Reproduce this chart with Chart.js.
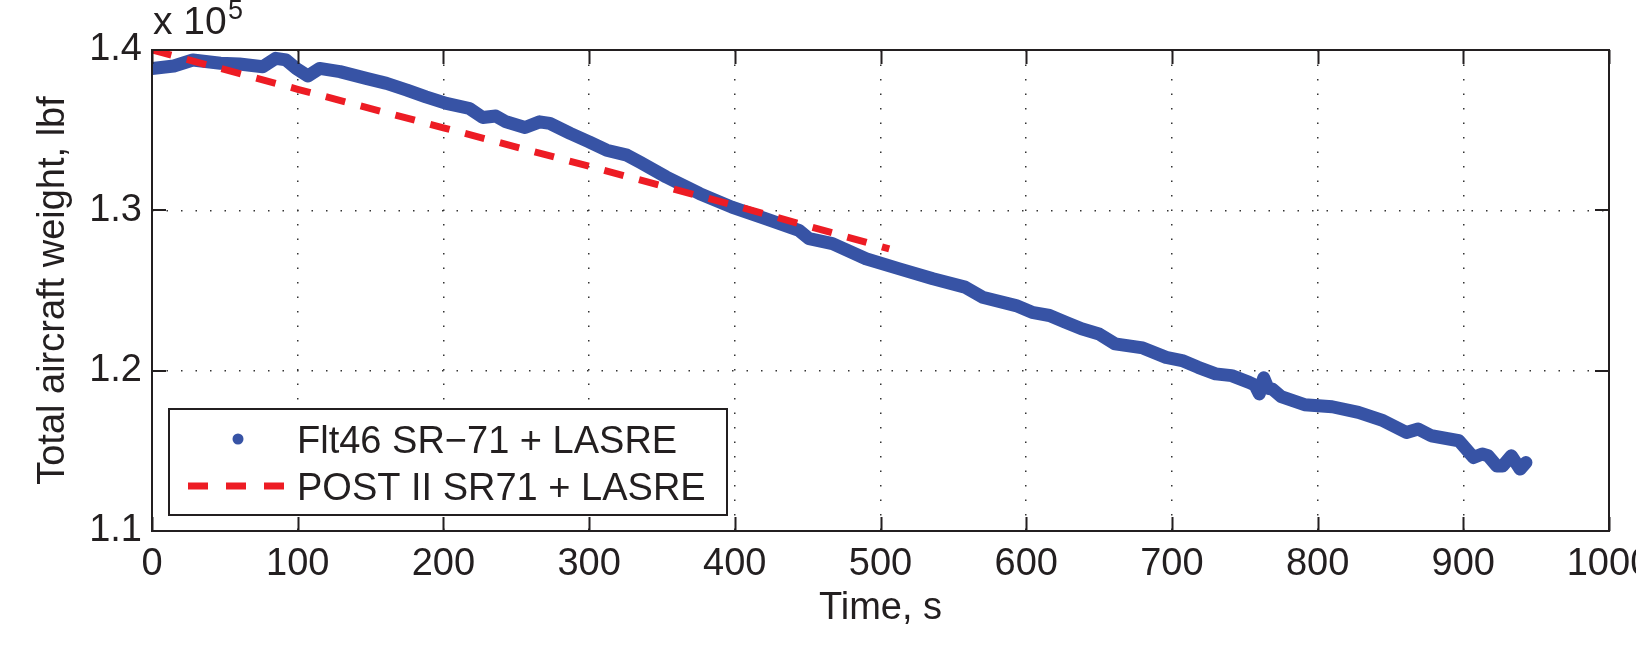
<!DOCTYPE html>
<html>
<head>
<meta charset="utf-8">
<script src="https://cdn.jsdelivr.net/npm/chart.js@4.4.1/dist/chart.umd.min.js"></script>
<style>
  html, body { margin: 0; padding: 0; background: #fff; }
  #wrap { width: 1636px; height: 670px; }
</style>
</head>
<body>
<div id="wrap"><canvas id="chart-weight" width="1636" height="670"></canvas></div>
<script>
// Flt46 SR-71 + LASRE, time (s) / total weight (lbf)
const fltTime = [0, 15, 28, 47, 60, 76, 85, 92, 99, 107,
  115, 129, 147, 161, 175, 188, 202, 218, 227, 236,
  243, 256, 266, 273, 287, 300, 312, 326, 335, 353,
  376, 398, 421, 444, 451, 467, 490, 513, 536, 558,
  570, 593, 604, 616, 627, 638, 650, 661, 680, 696,
  707, 718, 730, 741, 753, 757, 760, 763, 766, 769,
  775, 791, 810, 828, 844, 861, 869, 878, 897, 907,
  913, 917, 923, 927, 933, 939, 943]
const fltWeight = [138850, 139000, 139380, 139170, 139130, 138960, 139480, 139380, 138850, 138380,
  138850, 138650, 138230, 137920, 137500, 137080, 136670, 136350, 135790, 135880,
  135520, 135170, 135520, 135420, 134800, 134270, 133750, 133440, 133000, 132080,
  131040, 130200, 129480, 128750, 128230, 127920, 126980, 126350, 125730, 125210,
  124580, 124060, 123640, 123440, 123020, 122610, 122290, 121670, 121420, 120830,
  120630, 120210, 119800, 119690, 119270, 119100, 118550, 119550, 118900, 118850,
  118380, 117880, 117750, 117400, 116920, 116140, 116360, 115940, 115630, 114580,
  114800, 114690, 114060, 114060, 114690, 113860, 114270]

// POST II SR71 + LASRE simulation
const postTime = [0, 100, 200, 300, 400, 506]
const postWeight = [140000, 137550, 135150, 132750, 130300, 127600]

const xTicks = [0, 100, 200, 300, 400, 500, 600, 700, 800, 900, 1000]
const yTicks = [110000, 120000, 130000, 140000]
const yTickLabels = ['1.1', '1.2', '1.3', '1.4']

const seriesLabels = ['Flt46 SR\u221271 + LASRE', 'POST II SR71 + LASRE']
const BLUE = '#3753a5'
const RED = '#ed1c24'
const INK = '#231f20'
const FONT = '"Liberation Sans", Arial, Helvetica, sans-serif'

function toPoints(xs, ys) {
  return xs.map((x, i) => ({ x: x, y: ys[i] }))
}

// matlab style box, inward ticks and the x10^5 multiplier
const axisBox = {
  id: 'axisBox',
  afterDatasetsDraw(chart) {
    const ctx = chart.ctx
    const a = chart.chartArea
    const xs = chart.scales.x, ys = chart.scales.y
    const tl = 14
    ctx.save()
    ctx.strokeStyle = INK
    ctx.lineWidth = 2
    ctx.beginPath()
    xTicks.forEach(v => {
      const px = Math.round(xs.getPixelForValue(v)) + 0.5
      ctx.moveTo(px, a.bottom); ctx.lineTo(px, a.bottom - tl)
      ctx.moveTo(px, a.top); ctx.lineTo(px, a.top + tl)
    })
    yTicks.forEach(v => {
      const py = Math.round(ys.getPixelForValue(v))
      ctx.moveTo(a.left, py); ctx.lineTo(a.left + tl, py)
      ctx.moveTo(a.right, py); ctx.lineTo(a.right - tl, py)
    })
    ctx.stroke()
    ctx.strokeRect(a.left, a.top, a.right - a.left, a.bottom - a.top)

    ctx.fillStyle = INK
    ctx.textBaseline = 'alphabetic'
    ctx.textAlign = 'left'
    ctx.font = '39px ' + FONT
    ctx.fillText('x 10', a.left + 1, 34)
    ctx.font = '27px ' + FONT
    ctx.fillText('5', a.left + 76, 19)
    ctx.restore()
  }
}

// legend box in the lower left corner of the axes
const legendBox = {
  id: 'legendBox',
  afterDraw(chart) {
    const ctx = chart.ctx
    const box = { left: 169, top: 409, right: 727, bottom: 515 }
    ctx.save()
    ctx.fillStyle = '#fff'
    ctx.fillRect(box.left, box.top, box.right - box.left, box.bottom - box.top)
    ctx.strokeStyle = INK
    ctx.lineWidth = 2
    ctx.strokeRect(box.left, box.top, box.right - box.left, box.bottom - box.top)

    // blue dot marker
    ctx.fillStyle = BLUE
    ctx.beginPath()
    ctx.arc(238, 439, 5.5, 0, Math.PI * 2)
    ctx.fill()
    // red dashes
    ctx.strokeStyle = RED
    ctx.lineWidth = 7
    ctx.setLineDash([20, 18])
    ctx.beginPath()
    ctx.moveTo(188, 486); ctx.lineTo(287, 486)
    ctx.stroke()
    ctx.setLineDash([])

    ctx.fillStyle = INK
    ctx.font = '38px ' + FONT
    ctx.textBaseline = 'alphabetic'
    ctx.fillText(seriesLabels[0], 297, 453)
    ctx.fillText(seriesLabels[1], 297, 500)
    ctx.restore()
  }
}

const chart_weight = new Chart(document.getElementById('chart-weight'), {
  type: 'line',
  data: {
    datasets: [
      {
        label: seriesLabels[1],
        data: toPoints(postTime, postWeight),
        borderColor: RED,
        borderWidth: 7,
        borderDash: [20, 16],
        pointRadius: 0,
        tension: 0,
        order: 0
      },
      {
        label: seriesLabels[0],
        data: toPoints(fltTime, fltWeight),
        borderColor: BLUE,
        borderWidth: 13,
        borderJoinStyle: 'round',
        borderCapStyle: 'round',
        pointRadius: 0,
        tension: 0,
        order: 1
      }
    ]
  },
  plugins: [axisBox, legendBox],
  options: {
    responsive: false,
    animation: false,
    devicePixelRatio: 1,
    layout: { padding: { left: 0, top: 50, right: 27, bottom: 0 } },
    plugins: {
      legend: { display: false },
      tooltip: { enabled: false }
    },
    scales: {
      x: {
        type: 'linear',
        min: 0,
        max: 1000,
        afterBuildTicks: (scale) => { scale.ticks = xTicks.map(v => ({ value: v })) },
        afterFit: (scale) => { scale.height = 139; scale.paddingLeft = 0; scale.paddingRight = 0 },
        ticks: {
          autoSkip: false,
          maxRotation: 0,
          padding: 11,
          color: INK,
          font: { family: FONT, size: 38 },
          callback: (v) => String(v)
        },
        grid: { color: '#333', lineWidth: 1.5, drawTicks: false },
        border: { display: false, dash: [1.5, 13] },
        title: {
          display: true,
          text: 'Time, s',
          color: INK,
          font: { family: FONT, size: 38 },
          padding: { top: 0, bottom: 39 }
        }
      },
      y: {
        type: 'linear',
        min: 110000,
        max: 140000,
        afterBuildTicks: (scale) => { scale.ticks = yTicks.map(v => ({ value: v })) },
        afterFit: (scale) => { scale.width = 152; scale.paddingTop = 0; scale.paddingBottom = 0 },
        ticks: {
          padding: 10,
          color: INK,
          font: { family: FONT, size: 38 },
          callback: (v) => yTickLabels[yTicks.indexOf(v)]
        },
        grid: { color: '#333', lineWidth: 1.5, drawTicks: false },
        border: { display: false, dash: [1.5, 13] },
        title: {
          display: true,
          text: 'Total aircraft weight, lbf',
          color: INK,
          font: { family: FONT, size: 38 },
          padding: { top: 31, bottom: 0 }
        }
      }
    }
  }
});
</script>
</body>
</html>
